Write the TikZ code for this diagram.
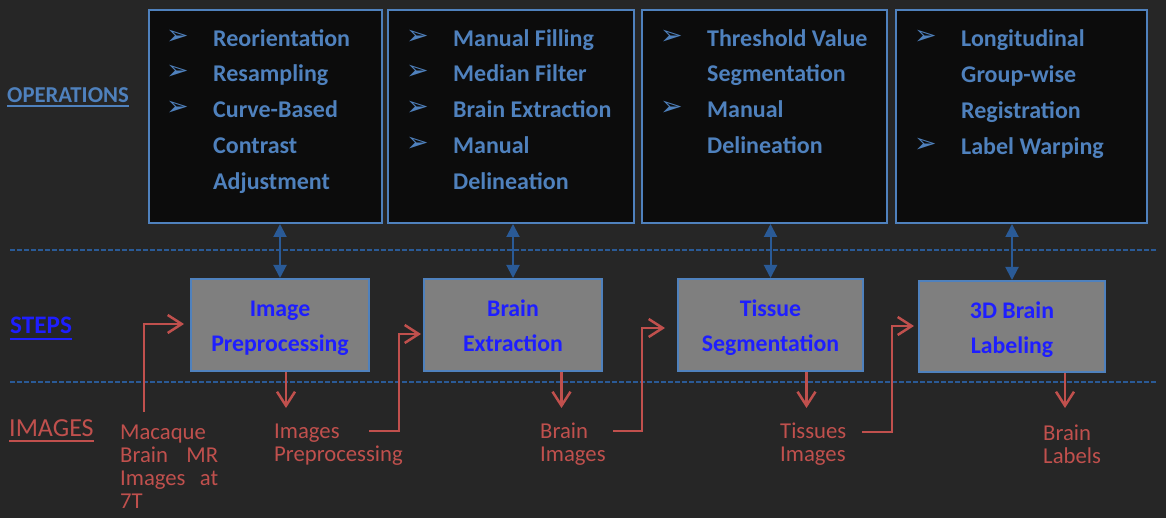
\documentclass[tikz,border=0pt]{standalone}
\usepackage{fontspec}
\setmainfont{Carlito}
\newfontfamily\symfont{DejaVu Sans}
\usetikzlibrary{arrows.meta}
\definecolor{bgc}{HTML}{262626}
\definecolor{opfill}{HTML}{0C0C0C}
\definecolor{bordc}{HTML}{4F81BD}
\definecolor{optext}{HTML}{4F81BD}
\definecolor{stepfill}{HTML}{7F7F7F}
\definecolor{steptext}{RGB}{30,30,255}
\definecolor{redc}{HTML}{C0504D}
\definecolor{darkblue}{HTML}{2A5A96}
\newcommand\topstrut{\rule{0pt}{23.6pt}}
\newcommand\botstrut{\rule[-4.7pt]{0pt}{0pt}}
\begin{document}
\begin{tikzpicture}[x=1pt,y=-1pt,
  opbox/.style={draw=bordc, line width=2pt, fill=opfill, inner sep=0pt, anchor=north west},
  item/.style={anchor=base west, inner sep=0pt, text=optext, font=\fontsize{24}{28}\selectfont\bfseries},
  bul/.style={anchor=base west, inner sep=0pt, text=optext, font=\symfont\fontsize{27}{30}\selectfont},
  stepbox/.style={draw=bordc, line width=2pt, fill=stepfill, inner sep=0pt, align=center, text=steptext,
    font=\fontsize{23.8}{35}\selectfont\bfseries},
  imgtxt/.style={anchor=north west, inner sep=0pt, align=left, text=redc, font=\fontsize{22.7}{23}\selectfont},
  dline/.style={draw=darkblue, line width=1.5pt, dash pattern=on 5pt off 2pt},
  barrow/.style={draw=darkblue, line width=2pt, {Triangle[width=13pt,length=13pt]}-{Triangle[width=13pt,length=13pt]}},
  rarrow/.style={draw=redc, line width=2.5pt, -{Straight Barb[width=18pt,length=14pt,line width=2.5pt]}},
  sidelab/.style={anchor=base west, inner sep=0pt}
]
\fill[bgc] (0,0) rectangle (1166,518);
\useasboundingbox (0,0) rectangle (1166,518);

% dashed separators
\coordinate (d1a) at (10,250);
\coordinate (d1b) at (1156,250);
\coordinate (d2a) at (10,382);
\coordinate (d2b) at (1156,382);
\draw[dline] (d1a) -- (d1b);
\draw[dline] (d2a) -- (d2b);

% side labels
\node[sidelab, text=optext, font=\fontsize{22.7}{26}\selectfont\bfseries] (lop) at (7,102.5) {OPERATIONS};
\node[sidelab, text=steptext, font=\fontsize{25.2}{28}\selectfont\bfseries] (lst) at (10,334) {STEPS};
\node[sidelab, text=redc, font=\fontsize{26}{28}\selectfont] (lim) at (9,436.5) {IMAGES};
\draw[optext, line width=2pt] ([yshift=-4pt]lop.base west) -- ([yshift=-4pt]lop.base east);
\draw[steptext, line width=2pt] ([yshift=-4.5pt]lst.base west) -- ([yshift=-4.5pt]lst.base east);
\draw[redc, line width=2pt] ([yshift=-4pt]lim.base west) -- ([yshift=-4pt]lim.base east);

% operation boxes
\node[opbox, minimum width=233pt, minimum height=213pt] (o1) at (148,9) {};
\node[opbox, minimum width=246pt, minimum height=213pt] (o2) at (387,9) {};
\node[opbox, minimum width=245pt, minimum height=213pt] (o3) at (641,9) {};
\node[opbox, minimum width=251pt, minimum height=213pt] (o4) at (895,9) {};

% box 1 items
\node[bul] (b11) at (166,45) {➢};
\node[bul] (b12) at (166,80) {➢};
\node[bul] (b13) at (166,116) {➢};
\node[item] (t11) at (213,47) {Reorientation};
\node[item] (t12) at (213,82) {Resampling};
\node[item] (t13) at (213,118) {Curve-Based};
\node[item] (t14) at (213,154) {Contrast};
\node[item] (t15) at (213,190) {Adjustment};
% box 2 items
\node[bul] (b21) at (406,45) {➢};
\node[bul] (b22) at (406,80) {➢};
\node[bul] (b23) at (406,116) {➢};
\node[bul] (b24) at (406,152) {➢};
\node[item] (t21) at (453,47) {Manual Filling};
\node[item] (t22) at (453,82) {Median Filter};
\node[item] (t23) at (453,118) {Brain Extraction};
\node[item] (t24) at (453,154) {Manual};
\node[item] (t25) at (453,190) {Delineation};
% box 3 items
\node[bul] (b31) at (660,45) {➢};
\node[bul] (b32) at (660,116) {➢};
\node[item] (t31) at (707,47) {Threshold Value};
\node[item] (t32) at (707,82) {Segmentation};
\node[item] (t33) at (707,118) {Manual};
\node[item] (t34) at (707,154) {Delineation};
% box 4 items
\node[bul] (b41) at (914,45) {➢};
\node[bul] (b42) at (914,153) {➢};
\node[item] (t41) at (961,47) {Longitudinal};
\node[item] (t42) at (961,83) {Group-wise};
\node[item] (t43) at (961,119) {Registration};
\node[item] (t44) at (961,155) {Label Warping};

% step boxes
\node[stepbox, minimum width=178pt, minimum height=92pt] (s1) at (280,325) {\topstrut Image\\Preprocessing\botstrut};
\node[stepbox, minimum width=178pt, minimum height=92pt] (s2) at (513,325) {\topstrut Brain\\Extraction\botstrut};
\node[stepbox, minimum width=185pt, minimum height=92pt] (s3) at (770.5,325) {\topstrut Tissue\\Segmentation\botstrut};
\node[stepbox, minimum width=186pt, minimum height=91pt] (s4) at (1012,326.5) {\topstrut 3D Brain\\Labeling\botstrut};

% blue double arrows
\draw[barrow] (s1.north |- o1.south) -- (s1.north);
\draw[barrow] (s2.north |- o2.south) -- (s2.north);
\draw[barrow] (s3.north |- o3.south) -- (s3.north);
\draw[barrow] (s4.north |- o4.south) -- (s4.north);

% image texts
\node[imgtxt, text width=98pt] (i0) at (120,421.5) {\rule{0pt}{18pt}Macaque\\Brain\hfill MR\\Images\hfill at\\7T};
\node[imgtxt] (i1) at (274,420) {\rule{0pt}{18pt}Images\\Preprocessing};
\node[imgtxt] (i2) at (540,420) {\rule{0pt}{18pt}Brain\\Images};
\node[imgtxt] (i3) at (780,420) {\rule{0pt}{18pt}Tissues\\Images};
\node[imgtxt] (i4) at (1043,422) {\rule{0pt}{18pt}Brain\\Labels};

% red down arrows
\coordinate (r1) at (286,408);
\coordinate (r2) at (561.5,408);
\coordinate (r3) at (806.5,408);
\coordinate (r4) at (1065,408);
\draw[rarrow] (s1.south -| r1) -- (r1);
\draw[rarrow] (s2.south -| r2) -- (r2);
\draw[rarrow] (s3.south -| r3) -- (r3);
\draw[rarrow] (s4.south -| r4) -- (r4);

% red elbow arrows
\coordinate (e0) at (144,412);
\coordinate (f0) at (184,324);
\draw[rarrow] (e0) |- (f0);
\coordinate (e1) at (369,431);
\coordinate (f1) at (421,334);
\draw[rarrow] (e1) -- ++(30,0) |- (f1);
\coordinate (e2) at (613,431);
\coordinate (f2) at (665,328);
\draw[rarrow] (e2) -- ++(29,0) |- (f2);
\coordinate (e3) at (862,432);
\coordinate (f3) at (914,326);
\draw[rarrow] (e3) -- ++(30,0) |- (f3);
\end{tikzpicture}
\end{document}
